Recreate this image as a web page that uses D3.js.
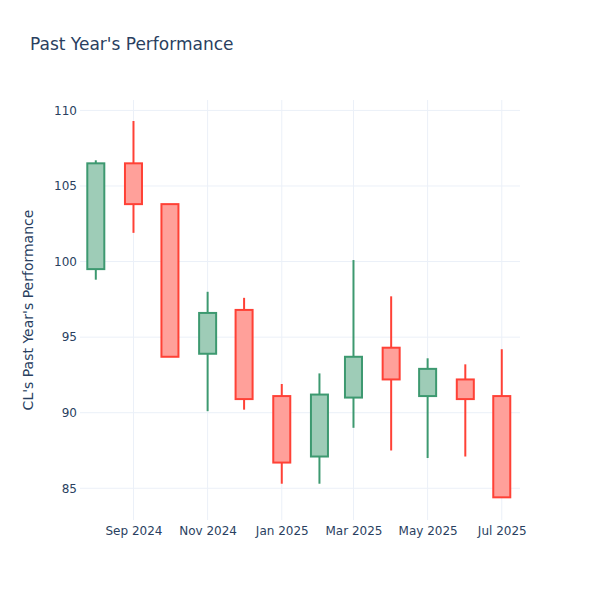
<!DOCTYPE html>
<html>
<head>
<meta charset="utf-8">
<script src="https://cdn.jsdelivr.net/npm/d3@7"></script>
<style>
  body { margin: 0; background: #fff; }
  text { font-family: "DejaVu Sans", verdana, arial, sans-serif; fill: #2a3f5f; }
</style>
</head>
<body>
<div id="chart"></div>
<script>
'use strict';

// monthly candles, CL
var months = ['2024-08-01', '2024-09-01', '2024-10-01', '2024-11-01', '2024-12-01', '2025-01-01',
              '2025-02-01', '2025-03-01', '2025-04-01', '2025-05-01', '2025-06-01', '2025-07-01'];
var opens  = [99.5, 106.5, 103.8, 93.9, 96.8, 91.1, 87.1, 91.0, 94.3, 91.1, 92.2, 91.1];
var highs  = [106.7, 109.3, 103.8, 98.0, 97.6, 91.9, 92.6, 100.1, 97.7, 93.6, 93.2, 94.2];
var lows   = [98.8, 101.9, 93.7, 90.1, 90.2, 85.3, 85.3, 89.0, 87.5, 87.0, 87.1, 84.4];
var closes = [106.5, 103.8, 93.7, 96.6, 90.9, 86.7, 91.2, 93.7, 92.2, 92.9, 90.9, 84.4];

var yTicks = [85, 90, 95, 100, 105, 110];
var xTicks = ['2024-09-01', '2024-11-01', '2025-01-01', '2025-03-01', '2025-05-01', '2025-07-01'];

var width = 600, height = 600;
var margin = { top: 100, right: 80, bottom: 80, left: 80 };
var incColor = '#3D9970', decColor = '#FF4136';

var parse = d3.utcParse('%Y-%m-%d');
var candles = months.map(function (m, i) {
    return { date: parse(m), open: opens[i], high: highs[i], low: lows[i], close: closes[i] };
});

var svg = d3.select('#chart')
    .append('svg')
    .attr('width', width)
    .attr('height', height);

var x = d3.scaleUtc()
    .domain([parse('2024-07-19'), parse('2025-07-16')])
    .range([margin.left, width - margin.right]);

var y = d3.scaleLinear()
    .domain([82.9, 110.69])
    .range([height - margin.bottom, margin.top]);

// grid
svg.append('g')
    .selectAll('line')
    .data(yTicks)
    .enter()
    .append('line')
    .attr('x1', margin.left)
    .attr('x2', width - margin.right)
    .attr('y1', function (d) { return y(d); })
    .attr('y2', function (d) { return y(d); })
    .style('stroke', '#EBF0F8');

svg.append('g')
    .selectAll('line')
    .data(xTicks.map(parse))
    .enter()
    .append('line')
    .attr('x1', function (d) { return x(d); })
    .attr('x2', function (d) { return x(d); })
    .attr('y1', margin.top)
    .attr('y2', height - margin.bottom)
    .style('stroke', '#EBF0F8');

// axes
var yAxis = svg.append('g')
    .attr('transform', 'translate(' + margin.left + ',0)')
    .call(d3.axisLeft(y).tickValues(yTicks).tickSize(0).tickPadding(3));
yAxis.select('.domain').remove();
yAxis.selectAll('text').style('font-size', '12px').style('fill', '#2a3f5f');

var xAxis = svg.append('g')
    .attr('transform', 'translate(0,' + (height - margin.bottom) + ')')
    .call(d3.axisBottom(x).tickValues(xTicks.map(parse)).tickSize(0).tickPadding(6)
        .tickFormat(d3.utcFormat('%b %Y')));
xAxis.select('.domain').remove();
xAxis.selectAll('text').style('font-size', '12px').style('fill', '#2a3f5f');

// candles
var boxWidth = x(parse('2024-08-15')) - x(parse('2024-08-01'));

var candle = svg.append('g')
    .selectAll('.candle')
    .data(candles)
    .enter()
    .append('g')
    .attr('class', 'candle');

function colorOf(d) { return d.close >= d.open ? incColor : decColor; }

candle.append('line')
    .attr('x1', function (d) { return x(d.date); })
    .attr('x2', function (d) { return x(d.date); })
    .attr('y1', function (d) { return y(d.high); })
    .attr('y2', function (d) { return y(d.low); })
    .style('stroke', colorOf)
    .style('stroke-width', 2);

candle.append('rect')
    .attr('x', function (d) { return x(d.date) - boxWidth / 2; })
    .attr('width', boxWidth)
    .attr('y', function (d) { return y(Math.max(d.open, d.close)); })
    .attr('height', function (d) { return Math.abs(y(d.open) - y(d.close)); })
    .style('fill', '#fff')
    .style('stroke', 'none');

candle.append('rect')
    .attr('x', function (d) { return x(d.date) - boxWidth / 2; })
    .attr('width', boxWidth)
    .attr('y', function (d) { return y(Math.max(d.open, d.close)); })
    .attr('height', function (d) { return Math.abs(y(d.open) - y(d.close)); })
    .style('fill', colorOf)
    .style('fill-opacity', 0.5)
    .style('stroke', colorOf)
    .style('stroke-width', 2);

// titles
svg.append('text')
    .attr('x', 30)
    .attr('y', 50)
    .style('font-size', '17px')
    .text("Past Year's Performance");

svg.append('text')
    .attr('transform', 'translate(33,' + ((margin.top + height - margin.bottom) / 2) + ') rotate(-90)')
    .attr('text-anchor', 'middle')
    .style('font-size', '14px')
    .text("CL's Past Year's Performance");
</script>
</body>
</html>
